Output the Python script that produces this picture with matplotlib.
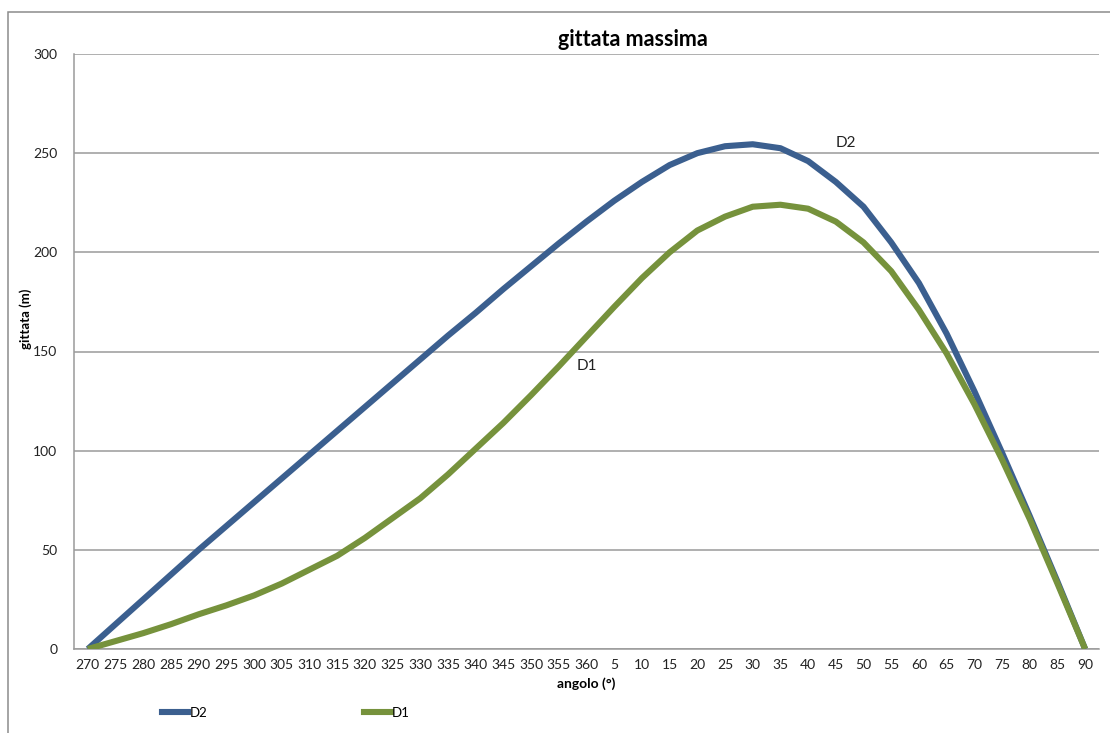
import numpy as np
import matplotlib
matplotlib.use("Agg")
import matplotlib.pyplot as plt
from matplotlib.lines import Line2D
from matplotlib.patches import Rectangle

plt.rcParams['font.family'] = ['Lato', 'DejaVu Sans']

# angles (deg) used as categories
angles = [270, 275, 280, 285, 290, 295, 300, 305, 310, 315, 320, 325, 330,
          335, 340, 345, 350, 355, 360, 5, 10, 15, 20, 25, 30, 35, 40, 45,
          50, 55, 60, 65, 70, 75, 80, 85, 90]

# gittata (m)
d2 = [0, 12.5, 25, 37.5, 50, 62, 74, 86, 98, 110, 122, 134, 146, 158, 169.5,
      181.5, 193, 204.5, 215.5, 226, 235.5, 244, 250, 253.5, 254.5, 252.5, 246,
      235.5, 223, 205, 184.5, 159, 130, 99, 67, 34, 0]
d1 = [0, 4, 8, 12.5, 17.5, 22, 27, 33, 40, 47, 56, 66, 76, 88, 101, 114,
      128, 142.5, 157.5, 172.5, 187, 200, 211, 218, 223, 224, 222, 215.5,
      205, 190.5, 171, 149, 123.5, 95.5, 65.5, 33, 0]

blue = '#3B5F8F'
green = '#76923C'
grid_c = '#9A9A9A'

fig = plt.figure(figsize=(11.10, 7.33), dpi=100)
ax = fig.add_axes([74 / 1110, 1 - 649 / 733, (1099 - 74) / 1110, (649 - 54) / 733])

x = np.arange(len(angles))
ax.plot(x, d2, color=blue, lw=4.4, solid_capstyle='butt', zorder=3)
ax.plot(x, d1, color=green, lw=4.4, solid_capstyle='butt', zorder=4)

ax.set_xlim(-0.5, len(angles) - 0.5)
ax.set_ylim(0, 300)
ax.set_yticks(np.arange(0, 301, 50))
ax.set_xticks(x)
ax.set_xticklabels([str(a) for a in angles])
ax.tick_params(length=0, labelsize=10, colors='#222222', pad=7)
ax.tick_params(axis='y', pad=12)
ax.yaxis.grid(True, color=grid_c, lw=1.1)
ax.set_axisbelow(True)
for s in ['top', 'right']:
    ax.spines[s].set_visible(False)
for s in ['left', 'bottom']:
    ax.spines[s].set_color(grid_c)
    ax.spines[s].set_linewidth(1.1)

ax.set_ylabel('gittata (m)', fontsize=9.5, fontweight='bold')
ax.yaxis.set_label_coords(-0.041, 0.555)
ax.set_xlabel('angolo (°)', fontsize=10, fontweight='bold', labelpad=5)

# series labels
ax.annotate('D1', (17, d1[17]), xytext=(13, 0), textcoords='offset points',
            fontsize=11, va='center', ha='left', color='#222222')
ax.annotate('D2', (26, d2[26]), xytext=(20, 13), textcoords='offset points',
            fontsize=11, va='center', ha='left', color='#222222')

fig.text(633 / 1110, 1 - 40 / 733, 'gittata massima', fontsize=15.5,
         fontweight='bold', ha='center', va='center')

# outer chart frame
fig.patches.append(Rectangle((8 / 1110, -0.05), 1.2, 1 - 12 / 733 + 0.05,
                             transform=fig.transFigure, fill=False,
                             edgecolor='#8C8C8C', lw=1.1))

handles = [Line2D([], [], color=blue, lw=4.4), Line2D([], [], color=green, lw=4.4)]
fig.legend(handles, ['D2', 'D1'], ncol=2, frameon=False, fontsize=9.5,
           loc='center left', bbox_to_anchor=(150 / 1110, 1 - 713 / 733),
           handlelength=2.0, handletextpad=0.1, columnspacing=11.9)

fig.savefig('out.png', dpi=100)
